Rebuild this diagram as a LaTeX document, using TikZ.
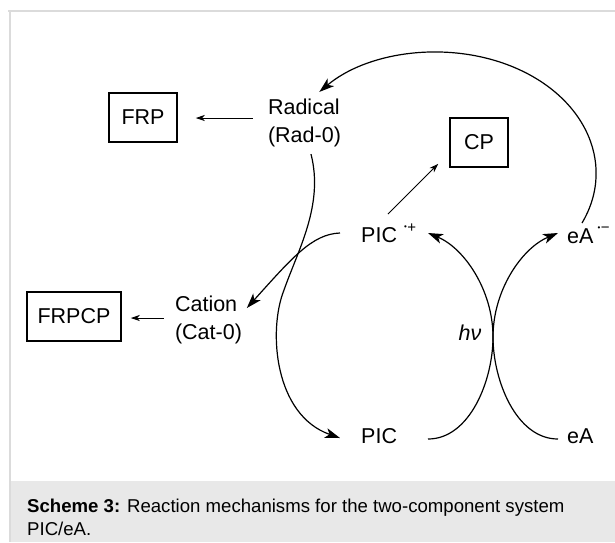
\documentclass[tikz,border=0pt]{standalone}
\usepackage{fontspec}
\setmainfont{Liberation Sans}
\usetikzlibrary{arrows.meta,calc}
\newcommand{\supdot}{\raisebox{13pt}{\fontsize{8}{8}\selectfont •}}
\begin{document}
\begin{tikzpicture}[x=1pt,y=-1pt,
  txt/.style={inner sep=0pt, font=\fontsize{21.5}{28}\selectfont},
  boxn/.style={draw, line width=1.5pt, inner sep=0pt, font=\fontsize{21.5}{28}\selectfont},
  carr/.style={line width=1.2pt, -{Stealth[length=15pt,width=10pt,inset=4pt]}},
  sarr/.style={line width=1pt, -{Stealth[length=9pt,width=6pt,inset=2.5pt]}},
  framec/.style={draw=black!14, line width=1.4pt}
]
\useasboundingbox (0,0) rectangle (615,542);
% frame and caption band
\fill[black!9] (10.7,481) rectangle (615,542);
\draw[framec] (8,11) -- (615,11);
\draw[framec] (10,11) -- (10,542);
\node[anchor=north west, inner sep=0pt, align=left, font=\fontsize{18.6}{23}\selectfont] (cap) at (27,498.4)
  {\textbf{Scheme 3:} Reaction mechanisms for the two-component system\\PIC/eA.};

% boxes
\node[boxn, minimum width=68pt, minimum height=49pt] (frp) at (143,117.5) {FRP};
\node[boxn, minimum width=58pt, minimum height=49pt] (cp) at (479,142.5) {CP};
\node[boxn, minimum width=94pt, minimum height=49pt] (frpcp) at (74,316.5) {FRPCP};

% text nodes
\node[txt, align=left] (rad) at (304.5,123.4) {Radical\\(Rad-0)};
\node[txt, align=left] (cat) at (208.5,320.4) {Cation\\(Cat-0)};
\node[txt, anchor=base west] (picp) at (361,242) {PIC\hspace{7pt}\supdot\hspace{0.5pt}\raisebox{10pt}{\fontsize{15}{15}\selectfont +}};
\node[txt, anchor=base west] (eam) at (567,243) {eA\hspace{4pt}\supdot\hspace{0.5pt}\raisebox{11pt}{\fontsize{15}{15}\selectfont −}};
\node[txt, anchor=base west] (pic) at (361,443) {PIC};
\node[txt, anchor=base west] (ea) at (567,443) {eA};
\node[txt, anchor=base] (hv) at (470,340) {\textit{hν}};

% straight arrows
\draw[sarr] ([shift={(-15,-5.4)}]rad.west) -- ([shift={(18,0.5)}]frp.east);
\draw[sarr] ([shift={(-11,-2.4)}]cat.west) -- ([shift={(9,1.5)}]frpcp.east);
\draw[sarr] ([shift={(27,-28)}]picp.base west) -- ([shift={(-11,-4)}]cp.south west);

% big arc eA.- -> Radical
\draw[carr] ([shift={(15,-20)}]eam.base west)
  arc[start angle=24.3, end angle=-137.8, x radius=159, y radius=121];

% Radical -> PIC
\draw[carr] ([shift={(6.5,6.5)}]rad.south)
  .. controls (324,205) and (298,250) .. (284,290)
  .. controls (268,330) and (274,415) .. ([shift={(-21,-5)}]pic.base west);

% PIC.+ -> Cation
\draw[carr] ([shift={(-21,-9)}]picp.base west)
  .. controls (312,234) and (292,258) .. ([shift={(72,-12.4)}]cat.west);

% PIC -> PIC.+ (h nu)
\draw[carr] ([shift={(67,-4)}]pic.base west)
  .. controls (470,439) and (493,380) .. (493,337)
  .. controls (493,290) and (464,248) .. ([shift={(67,-9)}]picp.base west);

% eA -> eA.-
\draw[carr] ([shift={(-9,-4)}]ea.base west)
  .. controls (516,439) and (493,380) .. (493,337)
  .. controls (493,290) and (522,248) .. ([shift={(-9,-10)}]eam.base west);
\end{tikzpicture}
\end{document}
